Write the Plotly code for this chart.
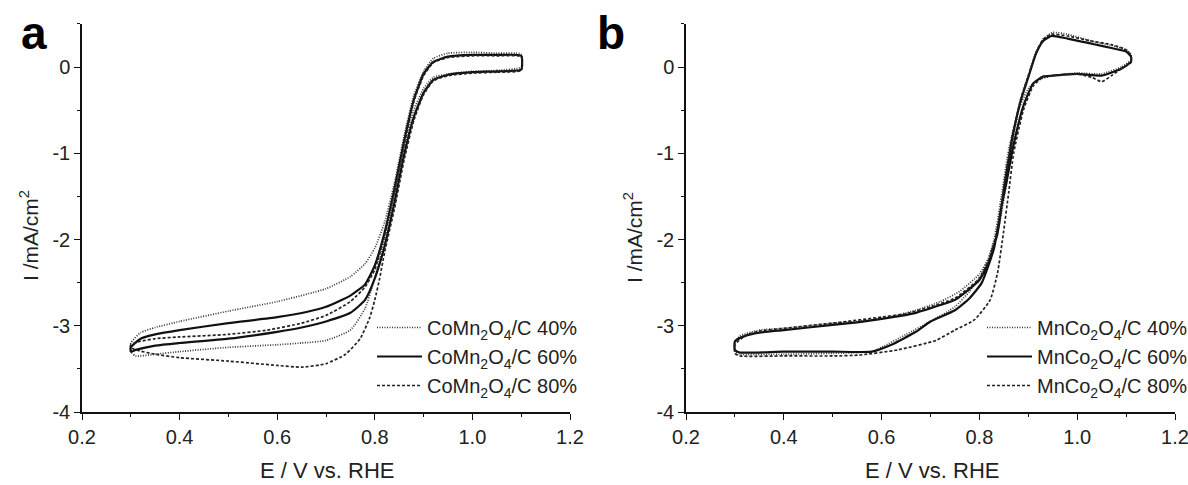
import plotly.graph_objects as go

# ---------------- data (E / V vs RHE, I / mA cm^-2), closed CV loops ----------------
# Panel a : CoMn2O4/C
E_a40 = [1.10, 1.05, 1.00, 0.95, 0.92, 0.90, 0.88, 0.86, 0.84, 0.82, 0.80, 0.78, 0.75, 0.70, 0.65, 0.60, 0.50, 0.40, 0.35, 0.31, 0.30,
         0.30, 0.32, 0.35, 0.40, 0.50, 0.60, 0.70, 0.75, 0.78, 0.80, 0.82, 0.84, 0.86, 0.88, 0.90, 0.92, 0.95, 1.00, 1.05, 1.10, 1.10]
I_a40 = [0.00, -0.04, -0.05, -0.08, -0.12, -0.25, -0.50, -0.95, -1.50, -2.00, -2.45, -2.80, -3.05, -3.17, -3.20, -3.22, -3.25, -3.30, -3.33, -3.35, -3.30,
         -3.20, -3.08, -3.02, -2.95, -2.83, -2.72, -2.57, -2.43, -2.28, -2.10, -1.80, -1.35, -0.80, -0.33, -0.05, 0.10, 0.16, 0.17, 0.16, 0.15, 0.00]

E_a60 = [1.10, 1.05, 1.00, 0.95, 0.92, 0.90, 0.88, 0.86, 0.84, 0.82, 0.80, 0.78, 0.75, 0.70, 0.65, 0.60, 0.50, 0.40, 0.35, 0.31, 0.30,
         0.30, 0.32, 0.35, 0.40, 0.50, 0.60, 0.66, 0.70, 0.75, 0.78, 0.80, 0.82, 0.84, 0.86, 0.88, 0.90, 0.92, 0.95, 1.00, 1.05, 1.10, 1.10]
I_a60 = [-0.03, -0.05, -0.06, -0.09, -0.15, -0.30, -0.58, -1.02, -1.58, -2.08, -2.45, -2.70, -2.85, -2.95, -3.02, -3.07, -3.15, -3.20, -3.23, -3.28, -3.30,
         -3.25, -3.15, -3.10, -3.05, -2.97, -2.90, -2.84, -2.78, -2.65, -2.52, -2.30, -1.92, -1.42, -0.86, -0.38, -0.08, 0.06, 0.12, 0.14, 0.14, 0.13, -0.03]

E_a80 = [1.10, 1.05, 1.00, 0.95, 0.92, 0.90, 0.88, 0.86, 0.84, 0.82, 0.81, 0.80, 0.79, 0.77, 0.74, 0.70, 0.65, 0.60, 0.50, 0.40, 0.35, 0.31, 0.30,
         0.30, 0.32, 0.35, 0.40, 0.50, 0.58, 0.65, 0.70, 0.75, 0.78, 0.80, 0.82, 0.84, 0.86, 0.88, 0.90, 0.92, 0.95, 1.00, 1.05, 1.10, 1.10]
I_a80 = [-0.04, -0.06, -0.07, -0.10, -0.16, -0.32, -0.62, -1.08, -1.65, -2.15, -2.45, -2.70, -2.90, -3.15, -3.33, -3.44, -3.48, -3.46, -3.41, -3.37, -3.33, -3.28, -3.25,
         -3.22, -3.18, -3.15, -3.13, -3.10, -3.05, -2.97, -2.88, -2.72, -2.55, -2.35, -1.95, -1.45, -0.90, -0.40, -0.10, 0.05, 0.11, 0.13, 0.13, 0.12, -0.04]

# Panel b : MnCo2O4/C
E_b40 = [1.11, 1.09, 1.05, 1.00, 0.95, 0.92, 0.90, 0.88, 0.86, 0.845, 0.83, 0.81, 0.78, 0.75, 0.70, 0.65, 0.60, 0.58, 0.50, 0.40, 0.31, 0.30,
         0.30, 0.31, 0.35, 0.40, 0.50, 0.55, 0.60, 0.67, 0.72, 0.76, 0.80, 0.82, 0.84, 0.855, 0.87, 0.885, 0.90, 0.915, 0.93, 0.95, 0.98, 1.03, 1.07, 1.10, 1.11, 1.11]
I_b40 = [0.08, 0.00, -0.08, -0.07, -0.10, -0.15, -0.25, -0.50, -0.95, -1.50, -2.00, -2.35, -2.60, -2.78, -2.95, -3.10, -3.25, -3.30, -3.32, -3.33, -3.33, -3.30,
         -3.20, -3.12, -3.05, -3.03, -2.97, -2.95, -2.92, -2.82, -2.72, -2.60, -2.40, -2.20, -1.85, -1.35, -0.80, -0.38, -0.10, 0.15, 0.32, 0.40, 0.38, 0.30, 0.25, 0.20, 0.15, 0.08]

E_b60 = [1.11, 1.09, 1.05, 1.00, 0.95, 0.93, 0.91, 0.89, 0.87, 0.855, 0.845, 0.83, 0.805, 0.78, 0.75, 0.70, 0.67, 0.62, 0.58, 0.50, 0.40, 0.31, 0.30,
         0.30, 0.32, 0.35, 0.40, 0.50, 0.55, 0.60, 0.67, 0.72, 0.75, 0.80, 0.82, 0.837, 0.852, 0.869, 0.885, 0.90, 0.916, 0.93, 0.947, 0.98, 1.03, 1.07, 1.10, 1.11, 1.11]
I_b60 = [0.06, -0.02, -0.10, -0.08, -0.10, -0.11, -0.19, -0.45, -0.90, -1.35, -1.62, -2.10, -2.50, -2.68, -2.82, -2.95, -3.07, -3.22, -3.30, -3.30, -3.30, -3.31, -3.28,
         -3.18, -3.12, -3.08, -3.05, -2.99, -2.96, -2.92, -2.85, -2.76, -2.70, -2.47, -2.25, -1.93, -1.35, -0.77, -0.38, -0.12, 0.16, 0.30, 0.36, 0.33, 0.27, 0.22, 0.18, 0.12, 0.06]

E_b80 = [1.11, 1.09, 1.07, 1.05, 1.03, 1.00, 0.95, 0.93, 0.91, 0.89, 0.87, 0.86, 0.849, 0.837, 0.822, 0.79, 0.75, 0.711, 0.633, 0.554, 0.50, 0.40, 0.31, 0.30,
         0.30, 0.32, 0.35, 0.40, 0.50, 0.60, 0.65, 0.70, 0.75, 0.80, 0.82, 0.837, 0.852, 0.869, 0.885, 0.90, 0.916, 0.93, 0.947, 0.98, 1.03, 1.07, 1.10, 1.11, 1.11]
I_b80 = [0.05, -0.02, -0.10, -0.17, -0.12, -0.08, -0.10, -0.12, -0.22, -0.50, -1.00, -1.45, -1.93, -2.39, -2.70, -2.93, -3.05, -3.17, -3.28, -3.34, -3.35, -3.35, -3.35, -3.32,
         -3.22, -3.12, -3.06, -3.03, -2.97, -2.90, -2.86, -2.78, -2.68, -2.45, -2.22, -1.90, -1.32, -0.75, -0.36, -0.10, 0.17, 0.32, 0.38, 0.36, 0.30, 0.26, 0.20, 0.13, 0.05]

names_a = ["CoMn<sub>2</sub>O<sub>4</sub>/C 40%", "CoMn<sub>2</sub>O<sub>4</sub>/C 60%", "CoMn<sub>2</sub>O<sub>4</sub>/C 80%"]
names_b = ["MnCo<sub>2</sub>O<sub>4</sub>/C 40%", "MnCo<sub>2</sub>O<sub>4</sub>/C 60%", "MnCo<sub>2</sub>O<sub>4</sub>/C 80%"]
x_ticks = [0.2, 0.4, 0.6, 0.8, 1.0, 1.2]
x_ticktext = ["0.2", "0.4", "0.6", "0.8", "1.0", "1.2"]
y_ticks = [0, -1, -2, -3, -4]
y_ticktext = ["0", "-1", "-2", "-3", "-4"]

FONT = "Arial, Liberation Sans, sans-serif"
styles = [dict(dash="1px,1.5px", width=1.7, color="#333333"),
          dict(dash="solid", width=2.2, color="#111111"),
          dict(dash="3px,2px", width=1.7, color="#222222")]

fig = go.Figure()
series_a = [(E_a40, I_a40), (E_a60, I_a60), (E_a80, I_a80)]
series_b = [(E_b40, I_b40), (E_b60, I_b60), (E_b80, I_b80)]
for k, (E, I) in enumerate(series_a):
    fig.add_trace(go.Scatter(x=E, y=I, mode="lines", name=names_a[k], xaxis="x", yaxis="y",
                             line=dict(shape="spline", smoothing=0.5, **styles[k]),
                             legend="legend", legendgroup="a%d" % k))
for k, (E, I) in enumerate(series_b):
    fig.add_trace(go.Scatter(x=E, y=I, mode="lines", name=names_b[k], xaxis="x2", yaxis="y2",
                             line=dict(shape="spline", smoothing=0.5, **styles[k]),
                             legend="legend2", legendgroup="b%d" % k))

W, H = 1188, 485
ydom = [(H - 412) / H, (H - 23.9) / H]
xa = dict(range=[0.2, 1.2], tickvals=x_ticks, ticktext=x_ticktext, showline=True, linecolor="#111",
          linewidth=1.5, ticks="outside", ticklen=6, tickwidth=1.2, tickcolor="#111", showgrid=False,
          zeroline=False, automargin=False, ticklabeloverflow="allow",
          tickfont=dict(family=FONT, size=20, color="#222"),
          minor=dict(dtick=0.1, ticks="outside", ticklen=3, tickcolor="#111", showgrid=False))
ya = dict(range=[-4, 0.5], tickvals=y_ticks, ticktext=y_ticktext, showline=True, linecolor="#111",
          linewidth=1.5, ticks="outside", ticklen=6, tickwidth=1.2, tickcolor="#111", showgrid=False,
          zeroline=False, automargin=False, ticklabeloverflow="allow",
          tickfont=dict(family=FONT, size=20, color="#222"),
          minor=dict(dtick=0.5, ticks="outside", ticklen=3, tickcolor="#111", showgrid=False))

leg = dict(bgcolor="rgba(0,0,0,0)", font=dict(family=FONT, size=20, color="#222"),
           itemwidth=45, tracegroupgap=0, xanchor="left", yanchor="top")

fig.update_layout(
    width=W, height=H, margin=dict(l=0, r=0, t=0, b=0, autoexpand=False),
    paper_bgcolor="white", plot_bgcolor="white",
    xaxis=dict(domain=[82 / W, 570 / W], anchor="y", **xa),
    yaxis=dict(domain=ydom, anchor="x", **ya),
    xaxis2=dict(domain=[686 / W, 1175 / W], anchor="y2", **xa),
    yaxis2=dict(domain=ydom, anchor="x2", **ya),
    legend=dict(x=372 / W, y=(H - 308) / H, **leg),
    legend2=dict(x=982 / W, y=(H - 308) / H, **leg),
    showlegend=True,
    annotations=[
        dict(text="<b>a</b>", x=34 / W, y=(H - 33) / H, xref="paper", yref="paper", showarrow=False,
             xanchor="center", yanchor="middle", font=dict(family=FONT, size=46, color="#000")),
        dict(text="<b>b</b>", x=611 / W, y=(H - 33) / H, xref="paper", yref="paper", showarrow=False,
             xanchor="center", yanchor="middle", font=dict(family=FONT, size=46, color="#000")),
        dict(text="E / V vs. RHE", x=327 / W, y=(H - 470) / H, xref="paper", yref="paper", showarrow=False,
             xanchor="center", yanchor="middle", font=dict(family=FONT, size=22, color="#222")),
        dict(text="E / V vs. RHE", x=932 / W, y=(H - 470) / H, xref="paper", yref="paper", showarrow=False,
             xanchor="center", yanchor="middle", font=dict(family=FONT, size=22, color="#222")),
        dict(text="I /mA/cm<sup>2</sup>", x=29 / W, y=(H - 236) / H, xref="paper", yref="paper", showarrow=False,
             xanchor="center", yanchor="middle", textangle=-90, font=dict(family=FONT, size=21, color="#222")),
        dict(text="I /mA/cm<sup>2</sup>", x=633 / W, y=(H - 238) / H, xref="paper", yref="paper", showarrow=False,
             xanchor="center", yanchor="middle", textangle=-90, font=dict(family=FONT, size=21, color="#222")),
    ],
)

fig.write_html("out.html")
